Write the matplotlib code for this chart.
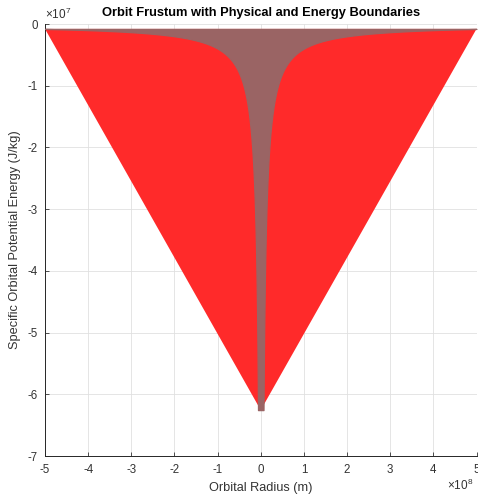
import numpy as np
import matplotlib.pyplot as plt
from matplotlib.patches import Polygon

plt.rcParams['font.family'] = ['Liberation Sans', 'DejaVu Sans']
plt.rcParams['mathtext.fontset'] = 'custom'
plt.rcParams['mathtext.rm'] = 'Liberation Sans'
plt.rcParams['axes.unicode_minus'] = False

# Earth parameters
mu = 3.986e14        # gravitational parameter (m^3/s^2)
R_earth = 6.371e6    # physical surface radius (m)
r_max = 5e8          # outer energy boundary (m)

x_ticks = [-5, -4, -3, -2, -1, 0, 1, 2, 3, 4, 5]
y_ticks = [-7, -6, -5, -4, -3, -2, -1, 0]

# potential well: -mu/|r| outside the surface
r = np.linspace(R_earth, r_max, 2000)
U = -mu / r
U_surf = -mu / R_earth
U_top = -mu / r_max

fig = plt.figure(figsize=(4.78, 4.95), dpi=100)
ax = fig.add_axes([45 / 478, 1 - 456 / 495, 431.5 / 478, 432 / 495])

# frustum boundary (straight lines from outer edge down to the surface energy)
tri = Polygon([[-r_max, U_top], [0, U_surf], [r_max, U_top]], closed=True,
              facecolor='#ff2a2a', edgecolor='none', zorder=2)
ax.add_patch(tri)

# region above the potential curve
xs = np.concatenate([-r[::-1], [-R_earth, R_earth], r])
lower = np.concatenate([U[::-1], [U_surf, U_surf], U])
ax.fill_between(xs, lower, U_top, facecolor='#9a6464', edgecolor='#9a6464',
                linewidth=0.9, zorder=3)

ax.set_xlim(-5e8, 5e8)
ax.set_ylim(-7e7, 0)
ax.set_xticks(np.array(x_ticks) * 1e8)
ax.set_xticklabels([str(t) for t in x_ticks])
ax.set_yticks(np.array(y_ticks) * 1e7)
ax.set_yticklabels([str(t) for t in y_ticks])
ax.tick_params(direction='in', length=3, labelsize=8.3, colors='#333333', width=0.6)
ax.tick_params(axis='x', pad=6)
ax.tick_params(axis='y', pad=5)
ax.grid(True, color='#e0e0e0', linewidth=0.6, zorder=0)
ax.set_axisbelow(True)
for s in ['top', 'right']:
    ax.spines[s].set_visible(False)
for s in ['left', 'bottom']:
    ax.spines[s].set_color('#262626')
    ax.spines[s].set_linewidth(0.7)

ax.set_xlabel('Orbital Radius (m)', fontsize=9.2, color='#333333', labelpad=4)
ax.set_ylabel('Specific Orbital Potential Energy (J/kg)', fontsize=9.2, color='#333333', labelpad=5)
ax.set_title('Orbit Frustum with Physical and Energy Boundaries', fontsize=9.3,
             fontweight='bold', pad=6)

ax.text(0.0, 1.005, r'$\times 10^{7}$', transform=ax.transAxes, fontsize=8.5,
        color='#333333', ha='left', va='bottom')
ax.text(0.993, -0.05, r'$\times 10^{8}$', transform=ax.transAxes, fontsize=8.5,
        color='#333333', ha='right', va='top')

fig.savefig('out.png', dpi=100)
